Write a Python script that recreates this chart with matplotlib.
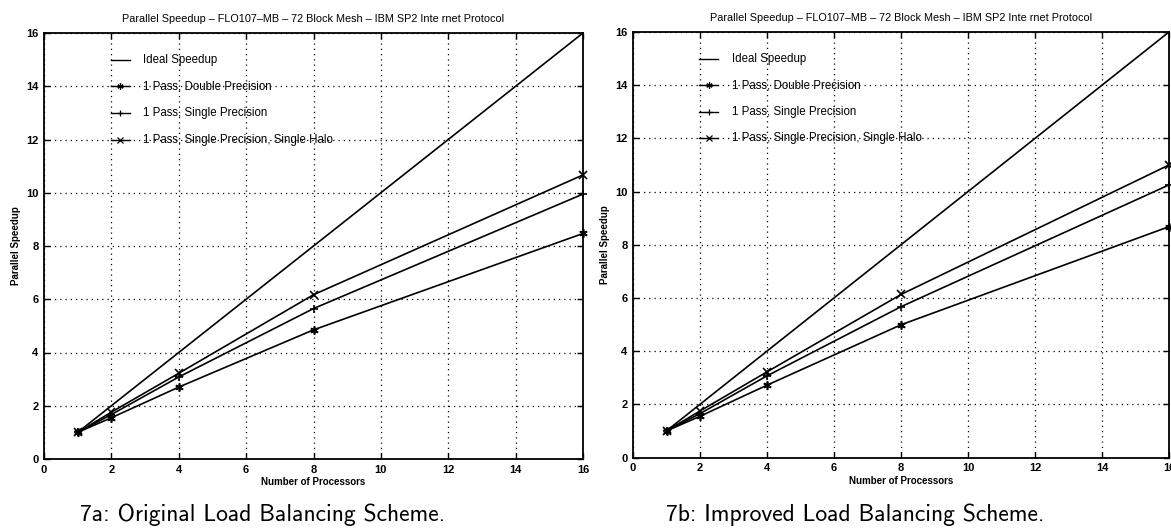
import matplotlib
matplotlib.use("Agg")
import matplotlib.pyplot as plt
import numpy as np

# Processor counts
procs = [1, 2, 4, 8, 16]
ideal = [1, 2, 4, 8, 16]

# 7a: original load balancing
orig_double = [1.0, 1.55, 2.70, 4.85, 8.47]
orig_single = [1.0, 1.67, 3.08, 5.65, 9.95]
orig_halo = [1.0, 1.76, 3.22, 6.17, 10.67]

# 7b: improved load balancing
impr_double = [1.0, 1.55, 2.72, 4.99, 8.68]
impr_single = [1.0, 1.65, 3.07, 5.67, 10.25]
impr_halo = [1.0, 1.75, 3.22, 6.13, 11.0]

legend_labels = ["Ideal Speedup",
                 "1 Pass, Double Precision",
                 "1 Pass, Single Precision",
                 "1 Pass, Single Precision, Single Halo"]

title = "Parallel Speedup \u2013 FLO107\u2013MB \u2013 72 Block Mesh \u2013 IBM SP2 Inte rnet Protocol"
captions = ["7a: Original Load Balancing Scheme.", "7b: Improved Load Balancing Scheme."]
ticks = [0, 2, 4, 6, 8, 10, 12, 14, 16]

plt.rcParams['font.family'] = ['Liberation Sans', 'DejaVu Sans']

W, H = 1171, 529
fig = plt.figure(figsize=(W / 100, H / 100), dpi=100)

asterisk = (6, 2, 0)
markers = [None, asterisk, '+', 'x']


def px_axes(x0, x1, ytop, ybot):
    return fig.add_axes([x0 / W, 1 - ybot / H, (x1 - x0) / W, (ybot - ytop) / H])


def draw_panel(ax, series, caption, cap_x):
    ax.set_xlim(0, 16)
    ax.set_ylim(0, 16)
    ax.set_xticks(ticks)
    ax.set_yticks(ticks)
    ax.grid(True, color='black', linestyle=(0, (1, 3.2)), linewidth=0.9)
    for s in ax.spines.values():
        s.set_linewidth(1.3)
    ax.tick_params(direction='in', length=4, width=1, top=True, right=True,
                   labelsize=8, pad=4)
    for lab in ax.get_xticklabels() + ax.get_yticklabels():
        lab.set_fontweight('bold')

    ax.plot(procs, ideal, color='black', lw=1.2)
    for vals, mk in zip(series, markers[1:]):
        ax.plot(procs, vals, color='black', lw=1.2, marker=mk,
                markersize=6, markeredgewidth=1.2, clip_on=False)

    ax.set_title(title, fontsize=7.8, pad=8)
    ax.set_xlabel("Number of Processors", fontsize=7, fontweight='bold', labelpad=2)
    ax.set_ylabel("Parallel Speedup", fontsize=7, fontweight='bold', labelpad=4)

    # Legend drawn as line samples with labels inside the axes
    for i, (lab, mk) in enumerate(zip(legend_labels, markers)):
        y = 15 - i
        ax.plot([1.98, 2.55], [y, y], color='black', lw=1.0)
        if mk is not None:
            ax.plot([2.27], [y], color='black', marker=mk, markersize=4.5,
                    markeredgewidth=0.9)
        ax.text(2.95, y, lab, fontsize=8.3, va='center', ha='left')

    fig.text(cap_x / W, 1 - 515 / H, caption, fontsize=17, family='cmss10',
             ha='center', va='center')


ax1 = px_axes(44, 583, 33, 459)
draw_panel(ax1, [orig_double, orig_single, orig_halo], captions[0], 263)

ax2 = px_axes(633, 1169, 32, 457.5)
draw_panel(ax2, [impr_double, impr_single, impr_halo], captions[1], 855)

fig.savefig("out.png", dpi=100, facecolor='white')
